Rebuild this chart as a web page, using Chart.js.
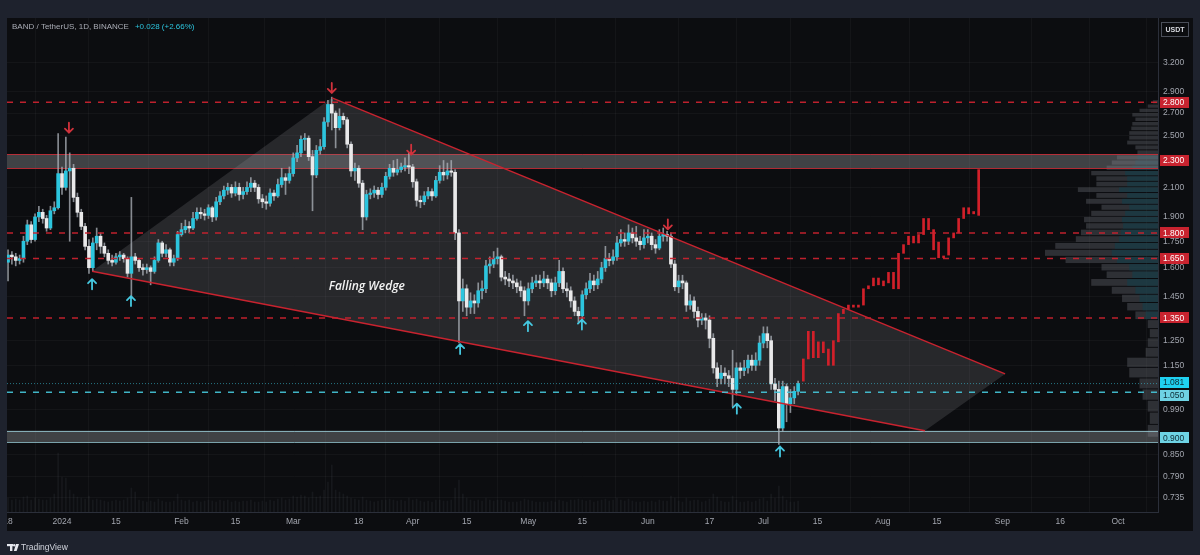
<!DOCTYPE html>
<html>
<head>
<meta charset="utf-8">
<title>BAND / TetherUS 1D</title>
<script src="https://cdn.jsdelivr.net/npm/chart.js@4.4.1/dist/chart.umd.min.js"></script>
<style>
  html, body { margin: 0; padding: 0; background: #1e222d; }
  canvas { display: block; }
</style>
</head>
<body>
<canvas id="chart" width="1200" height="555"></canvas>
<script>
// days counted from 1 Jan 2024, first candle is 18 Dec 2023
const firstDay = -14;
const firstOpen = 1.63;
const closes = [
  1.67, 1.66, 1.64, 1.65, 1.75, 1.85, 1.76, 1.90, 1.93, 1.89,
  1.83, 1.94, 1.96, 2.20, 2.10, 2.22, 2.24, 2.03, 1.93, 1.84,
  1.72, 1.60, 1.74, 1.78, 1.72, 1.68, 1.64, 1.63, 1.66, 1.67,
  1.65, 1.57, 1.66, 1.64, 1.60, 1.59, 1.60, 1.58, 1.64, 1.74,
  1.68, 1.70, 1.63, 1.65, 1.79, 1.82, 1.84, 1.83, 1.89, 1.93,
  1.92, 1.91, 1.96, 1.90, 2.00, 2.04, 2.08, 2.10, 2.06, 2.10,
  2.05, 2.07, 2.10, 2.13, 2.10, 2.02, 2.00, 1.99, 2.06, 2.04,
  2.12, 2.17, 2.15, 2.20, 2.32, 2.36, 2.47, 2.48, 2.33, 2.19,
  2.38, 2.41, 2.62, 2.78, 2.70, 2.57, 2.67, 2.64, 2.43, 2.22,
  2.24, 2.13, 1.90, 2.05, 2.06, 2.08, 2.05, 2.10, 2.18, 2.24,
  2.21, 2.23, 2.25, 2.26, 2.25, 2.14, 2.01, 2.00, 2.04, 2.07,
  2.04, 2.15, 2.21, 2.19, 2.22, 2.21, 1.80, 1.43, 1.49, 1.40,
  1.43, 1.42, 1.48, 1.49, 1.61, 1.62, 1.65, 1.66, 1.55, 1.54,
  1.53, 1.52, 1.50, 1.48, 1.43, 1.49, 1.52, 1.53, 1.52, 1.54,
  1.52, 1.48, 1.52, 1.58, 1.49, 1.48, 1.43, 1.38, 1.36, 1.46,
  1.49, 1.53, 1.51, 1.54, 1.60, 1.65, 1.64, 1.66, 1.74, 1.76,
  1.75, 1.80, 1.77, 1.75, 1.73, 1.77, 1.78, 1.73, 1.71, 1.78,
  1.79, 1.78, 1.62, 1.50, 1.53, 1.52, 1.41, 1.43, 1.38, 1.34,
  1.35, 1.34, 1.26, 1.14, 1.10, 1.12, 1.11, 1.10, 1.06, 1.14,
  1.13, 1.14, 1.17, 1.15, 1.17, 1.24, 1.28, 1.25, 1.08, 1.06,
  0.93, 1.07, 1.01, 1.03, 1.053, 1.081
];
const highs = [
  1.70, 1.69, 1.68, 1.67, 1.78, 1.88, 1.87, 1.92, 1.97, 1.95,
  1.91, 1.97, 2.00, 2.52, 2.25, 2.49, 2.36, 2.27, 2.06, 1.95,
  1.86, 1.76, 1.77, 1.83, 1.80, 1.74, 1.70, 1.67, 1.68, 1.69,
  1.68, 1.66, 2.03, 1.68, 1.65, 1.62, 1.62, 1.61, 1.66, 1.76,
  1.75, 1.73, 1.71, 1.67, 1.81, 1.86, 1.88, 1.87, 1.93, 1.96,
  1.96, 1.95, 1.98, 1.97, 2.03, 2.07, 2.11, 2.13, 2.12, 2.14,
  2.13, 2.10, 2.14, 2.17, 2.15, 2.12, 2.05, 2.04, 2.09, 2.08,
  2.16, 2.24, 2.20, 2.25, 2.36, 2.42, 2.50, 2.52, 2.50, 2.38,
  2.42, 2.47, 2.66, 2.82, 2.85, 2.72, 2.74, 2.70, 2.66, 2.45,
  2.28, 2.26, 2.15, 2.08, 2.09, 2.11, 2.10, 2.13, 2.21, 2.27,
  2.30, 2.31, 2.28, 2.32, 2.36, 2.27, 2.16, 2.04, 2.07, 2.10,
  2.09, 2.18, 2.26, 2.30, 2.28, 2.30, 2.23, 1.82, 1.54, 1.51,
  1.47, 1.46, 1.52, 1.53, 1.64, 1.66, 1.69, 1.71, 1.67, 1.58,
  1.57, 1.56, 1.54, 1.53, 1.50, 1.52, 1.55, 1.56, 1.56, 1.58,
  1.56, 1.54, 1.55, 1.64, 1.60, 1.52, 1.50, 1.45, 1.40, 1.48,
  1.52, 1.57, 1.56, 1.58, 1.63, 1.72, 1.68, 1.70, 1.78, 1.82,
  1.80, 1.85, 1.83, 1.84, 1.78, 1.82, 1.82, 1.80, 1.76, 1.82,
  1.83, 1.81, 1.80, 1.64, 1.56, 1.56, 1.53, 1.46, 1.45, 1.40,
  1.37, 1.37, 1.36, 1.28, 1.16, 1.15, 1.14, 1.13, 1.21, 1.16,
  1.16, 1.17, 1.19, 1.19, 1.20, 1.27, 1.31, 1.31, 1.27, 1.10,
  1.09, 1.09, 1.08, 1.06, 1.07, 1.09
];
const lows = [
  1.53, 1.62, 1.61, 1.62, 1.63, 1.73, 1.74, 1.75, 1.87, 1.86,
  1.81, 1.82, 1.92, 1.95, 2.05, 2.08, 1.75, 2.00, 1.90, 1.82,
  1.70, 1.57, 1.58, 1.70, 1.68, 1.66, 1.62, 1.61, 1.62, 1.64,
  1.63, 1.55, 1.45, 1.62, 1.58, 1.56, 1.57, 1.51, 1.57, 1.63,
  1.66, 1.66, 1.61, 1.61, 1.64, 1.78, 1.80, 1.80, 1.82, 1.88,
  1.89, 1.88, 1.89, 1.87, 1.88, 1.98, 2.02, 2.05, 2.03, 2.04,
  2.01, 2.02, 2.05, 2.07, 2.07, 1.99, 1.96, 1.95, 1.97, 2.01,
  2.03, 2.10, 2.05, 2.13, 2.18, 2.29, 2.33, 2.38, 2.30, 1.94,
  2.17, 2.35, 2.39, 2.58, 2.55, 2.40, 2.55, 2.60, 2.40, 2.18,
  2.15, 2.10, 1.82, 1.88, 2.02, 2.03, 2.02, 2.03, 2.08, 2.16,
  2.18, 2.19, 2.21, 2.22, 2.20, 2.10, 1.97, 1.96, 1.98, 2.02,
  2.01, 2.03, 2.13, 2.15, 2.16, 2.18, 1.76, 1.24, 1.38, 1.36,
  1.37, 1.37, 1.40, 1.44, 1.47, 1.57, 1.60, 1.62, 1.53, 1.51,
  1.50, 1.49, 1.47, 1.45, 1.36, 1.41, 1.47, 1.50, 1.49, 1.50,
  1.49, 1.45, 1.46, 1.50, 1.47, 1.45, 1.40, 1.36, 1.33, 1.34,
  1.44, 1.47, 1.48, 1.49, 1.52, 1.58, 1.61, 1.62, 1.64, 1.72,
  1.72, 1.73, 1.74, 1.72, 1.70, 1.71, 1.74, 1.70, 1.68, 1.70,
  1.75, 1.75, 1.60, 1.48, 1.47, 1.49, 1.38, 1.39, 1.35, 1.31,
  1.32, 1.30, 1.22, 1.12, 1.07, 1.08, 1.08, 1.07, 1.00, 1.04,
  1.10, 1.11, 1.12, 1.13, 1.13, 1.15, 1.22, 1.22, 1.06, 1.02,
  0.88, 0.92, 0.95, 0.98, 1.01, 1.04
];
// relative daily volume (faint histogram along the bottom)
const volumes = [
  14, 12, 13, 12, 15, 16, 12, 14, 13, 12,
  12, 14, 18, 59, 35, 34, 22, 18, 15, 14,
  13, 16, 12, 13, 12, 11, 10, 11, 12, 11,
  12, 14, 24, 20, 12, 11, 10, 11, 10, 13,
  11, 10, 10, 11, 18, 12, 11, 12, 10, 11,
  10, 11, 12, 11, 10, 12, 11, 12, 10, 11,
  10, 11, 11, 12, 10, 10, 11, 10, 12, 11,
  13, 14, 12, 13, 16, 15, 17, 16, 14, 20,
  15, 16, 22, 30, 47, 22, 20, 18, 16, 14,
  13, 12, 15, 12, 11, 10, 11, 12, 12, 13,
  12, 11, 12, 11, 14, 12, 13, 11, 10, 11,
  10, 12, 12, 11, 11, 12, 24, 32, 18, 14,
  12, 11, 12, 11, 14, 12, 11, 12, 12, 11,
  10, 10, 10, 11, 13, 12, 11, 10, 10, 10,
  10, 11, 10, 12, 11, 10, 12, 12, 13, 12,
  11, 12, 10, 11, 12, 13, 11, 12, 14, 12,
  11, 13, 11, 10, 10, 11, 10, 11, 10, 12,
  11, 11, 16, 14, 11, 10, 14, 11, 12, 12,
  10, 11, 13, 18, 15, 11, 10, 10, 16, 12,
  10, 10, 11, 10, 11, 13, 14, 11, 18, 14,
  26, 16, 12, 10, 10, 11
];

// projected path (red bars pattern)
const projStartDay = 192.35;
const projStep = 1.3;
const projLow = [
  1.09, 1.175, 1.18, 1.18, 1.20, 1.15, 1.15, 1.245, 1.37, 1.39, 1.40, 1.40,
  1.41, 1.49, 1.505, 1.51, 1.505, 1.52, 1.49, 1.49, 1.68, 1.73, 1.74, 1.74,
  1.79, 1.82, 1.70, 1.655, 1.655, 1.67, 1.77, 1.80, 1.89, 1.92, 1.92, 1.91
];
const projHigh = [
  1.175, 1.29, 1.29, 1.245, 1.245, 1.215, 1.25, 1.37, 1.39, 1.41, 1.41, 1.41,
  1.49, 1.505, 1.545, 1.545, 1.53, 1.575, 1.575, 1.68, 1.73, 1.78, 1.78, 1.79,
  1.89, 1.89, 1.82, 1.745, 1.665, 1.77, 1.80, 1.89, 1.96, 1.96, 1.935, 2.23
];

// levels and zones
const redLevels = [2.8, 1.8, 1.65, 1.35];
const cyanLevel = 1.05;
const lastPrice = 1.081;
const topZone = [2.24, 2.35];
const bottomZone = [0.887, 0.922];

// wedge corners [day, price]
const wedgeLower = [[7.8, 1.581], [223.9, 0.9217]];
const wedgeUpper = [[70.06, 2.843], [244.7, 1.117]];
const wedgeLabel = [79.1, 1.503];

const redArrows = [[1.8, 2.57], [70, 2.94], [90.6, 2.386], [157.2, 1.853]];
const cyanArrows = [[7.8, 1.513], [17.9, 1.429], [103.3, 1.215], [120.9, 1.313], [134.9, 1.32], [175.1, 0.993], [186.3, 0.859]];

// price scale: plain ticks and the highlighted level labels
const priceTicks = [3.2, 2.9, 2.7, 2.5, 2.1, 1.9, 1.75, 1.6, 1.45, 1.25, 1.15, 0.99, 0.85, 0.79, 0.735];
const redTags = [2.8, 2.3, 1.8, 1.65, 1.35];
const cyanTags = [1.081, 1.05, 0.9];

const timeTickDays = [-14, 0, 14, 31, 45, 60, 77, 91, 105, 121, 135, 152, 168, 182, 196, 213, 227, 244, 259, 274];
const timeTickLabels = ["18", "2024", "15", "Feb", "15", "Mar", "18", "Apr", "15", "May", "15", "Jun", "17", "Jul", "15", "Aug", "15", "Sep", "16", "Oct"];

// visible range volume profile, rows of 0.04 from 0.90 upwards
const vpStart = 0.90;
const vpStep = 0.04;
const vpVol = [10, 8, 10, 15, 18, 28, 30, 12, 10, 8, 10, 22, 30, 35, 45, 65, 50, 55, 90, 110, 100, 80, 75, 70, 72,
  65, 55, 70, 60, 78, 60, 60, 65, 50, 45, 40, 20, 22, 30, 28, 28, 26, 25, 22, 25, 18, 10, 5];
const vpUp = [0, 0, 0, 0, 0, 0, 0, 0, 0, 0, 0, 12, 15, 18, 22, 30, 25, 28, 40, 45, 42, 38, 36, 34, 35,
  32, 28, 35, 30, 38, 30, 30, 32, 25, 22, 20, 0, 0, 0, 0, 0, 0, 0, 0, 0, 0, 0, 0];

const xMin = -14.27, xMax = 284.38;
const yMin = 0.7034, yMax = 3.725;

const CYAN = '#2cc5de';
const WHITE = '#e9e9ea';
const RED = '#c8232f';
const OUTER = '#1e222d';
const FONT = 'Liberation Sans';

// candles
const wickData = [], bodyData = [], bodyColors = [], volData = [];
closes.forEach((c, i) => {
  const day = firstDay + i;
  const o = i === 0 ? firstOpen : closes[i - 1];
  wickData.push({ x: day, y: [lows[i], highs[i]] });
  bodyData.push({ x: day, y: [o, c] });
  bodyColors.push(c >= o ? CYAN : WHITE);
  volData.push({ x: day, y: volumes[i] });
});
const projData = projLow.map((lo, i) => ({ x: projStartDay + i * projStep, y: [lo, projHigh[i]] }));

function hLine(price, color, dash, width) {
  return {
    type: 'line',
    data: [{ x: xMin, y: price }, { x: xMax, y: price }],
    borderColor: color, borderWidth: width, borderDash: dash,
    pointRadius: 0, order: 0
  };
}
function segLine(pts) {
  return {
    type: 'line',
    data: pts.map(p => ({ x: p[0], y: p[1] })),
    borderColor: RED, borderWidth: 1.5,
    pointRadius: 0, order: 0
  };
}

function drawArrow(ctx, x, y, down, color) {
  ctx.save();
  ctx.strokeStyle = color;
  ctx.lineWidth = 1.8;
  ctx.lineCap = 'round';
  ctx.lineJoin = 'round';
  ctx.beginPath();
  ctx.moveTo(x, y - 5);
  ctx.lineTo(x, y + 5);
  if (down) {
    ctx.moveTo(x - 4, y + 1);
    ctx.lineTo(x, y + 5);
    ctx.lineTo(x + 4, y + 1);
  } else {
    ctx.moveTo(x - 4, y - 1);
    ctx.lineTo(x, y - 5);
    ctx.lineTo(x + 4, y - 1);
  }
  ctx.stroke();
  ctx.restore();
}

const tvPlugin = {
  id: 'tvLayers',
  beforeDraw(chart) {
    const ctx = chart.ctx;
    const a = chart.chartArea;
    ctx.save();
    ctx.fillStyle = OUTER;
    ctx.fillRect(0, 0, chart.width, chart.height);
    ctx.fillStyle = '#0c0d10';
    ctx.fillRect(a.left, a.top, chart.scales.y.right - a.left, chart.scales.x.bottom - a.top);
    ctx.restore();
  },
  beforeDatasetsDraw(chart) {
    const ctx = chart.ctx;
    const a = chart.chartArea;
    const xs = chart.scales.x, ys = chart.scales.y;
    ctx.save();
    ctx.beginPath();
    ctx.rect(a.left, a.top, a.right - a.left, a.bottom - a.top);
    ctx.clip();

    // volume profile
    const maxVol = Math.max(...vpVol);
    vpVol.forEach((v, i) => {
      const lo = vpStart + i * vpStep;
      const yt = ys.getPixelForValue(lo + vpStep);
      const yb = ys.getPixelForValue(lo);
      const h = Math.max(1, yb - yt - 1);
      const w = v / maxVol * 113;
      ctx.fillStyle = 'rgba(95,98,104,0.42)';
      ctx.fillRect(a.right - w, yt, w, h);
      if (vpUp[i] > 0) {
        const wu = vpUp[i] / maxVol * 113;
        ctx.fillStyle = 'rgba(18,62,74,0.6)';
        ctx.fillRect(a.right - wu, yt, wu, h);
      }
    });

    // zones
    const zone = (range, border) => {
      const y1 = ys.getPixelForValue(range[1]);
      const y0 = ys.getPixelForValue(range[0]);
      ctx.fillStyle = 'rgba(150,152,158,0.38)';
      ctx.fillRect(a.left, y1, a.right - a.left, y0 - y1);
      ctx.strokeStyle = border;
      ctx.lineWidth = 1;
      ctx.beginPath();
      ctx.moveTo(a.left, Math.round(y1) + 0.5); ctx.lineTo(a.right, Math.round(y1) + 0.5);
      ctx.moveTo(a.left, Math.round(y0) + 0.5); ctx.lineTo(a.right, Math.round(y0) + 0.5);
      ctx.stroke();
    };
    zone(topZone, 'rgba(205,45,55,0.85)');
    zone(bottomZone, 'rgba(150,200,210,0.8)');

    // wedge fill
    const pts = [wedgeLower[0], wedgeUpper[0], wedgeUpper[1], wedgeLower[1]];
    ctx.fillStyle = 'rgba(150,150,155,0.2)';
    ctx.beginPath();
    pts.forEach((p, i) => {
      const px = xs.getPixelForValue(p[0]), py = ys.getPixelForValue(p[1]);
      if (i === 0) ctx.moveTo(px, py); else ctx.lineTo(px, py);
    });
    ctx.closePath();
    ctx.fill();
    ctx.restore();
  },
  afterDatasetsDraw(chart) {
    const ctx = chart.ctx;
    const xs = chart.scales.x, ys = chart.scales.y;
    redArrows.forEach(p => drawArrow(ctx, xs.getPixelForValue(p[0]), ys.getPixelForValue(p[1]), true, '#d1323c'));
    cyanArrows.forEach(p => drawArrow(ctx, xs.getPixelForValue(p[0]), ys.getPixelForValue(p[1]), false, '#45c8e0'));
    ctx.save();
    ctx.font = 'italic 600 12px "Open Sans"';
    ctx.fillStyle = '#f2f2f2';
    ctx.textAlign = 'center';
    ctx.textBaseline = 'middle';
    ctx.fillText('Falling Wedge', xs.getPixelForValue(wedgeLabel[0]), ys.getPixelForValue(wedgeLabel[1]));
    ctx.restore();
  },
  afterDraw(chart) {
    const ctx = chart.ctx;
    const ys = chart.scales.y;
    const a = chart.chartArea;
    ctx.save();
    // clip the first time label at the panel edge
    ctx.fillStyle = OUTER;
    ctx.fillRect(0, 505, a.left, 30);

    // highlighted price tags on the scale
    ctx.font = '8.5px "' + FONT + '"';
    ctx.textBaseline = 'middle';
    ctx.textAlign = 'left';
    const tag = (v, bg, fg, shift) => {
      const y = ys.getPixelForValue(v) + shift;
      ctx.fillStyle = bg;
      ctx.fillRect(a.right + 2, Math.round(y - 5.5), 29, 11);
      ctx.fillStyle = fg;
      ctx.fillText(v.toFixed(3), a.right + 5, y + 0.5);
    };
    redTags.forEach(v => tag(v, '#c8232f', '#ffffff', 0));
    cyanTags.forEach(v => tag(v, v === 1.081 ? '#1fd0f0' : '#6ed3e4', '#0d2a33', v === 1.081 ? -1 : v === 1.05 ? 3 : 0));

    // header
    ctx.font = '8px "' + FONT + '"';
    ctx.fillStyle = '#a9acb5';
    const title = 'BAND / TetherUS, 1D, BINANCE';
    ctx.fillText(title, 12, 27);
    ctx.fillStyle = CYAN;
    ctx.fillText('+0.028 (+2.66%)', 12 + ctx.measureText(title).width + 6, 27);

    // currency box
    ctx.strokeStyle = '#4a4e59';
    ctx.lineWidth = 1;
    ctx.strokeRect(1161.5, 22.5, 27, 14);
    ctx.fillStyle = '#d8dae0';
    ctx.font = 'bold 7px "' + FONT + '"';
    ctx.textAlign = 'center';
    ctx.fillText('USDT', 1175, 30);

    // footer logo
    ctx.fillStyle = '#e6e8ee';
    ctx.fillRect(7, 544, 6, 2.2);
    ctx.fillRect(10, 544, 2.4, 7);
    ctx.beginPath();
    ctx.arc(14.2, 545.2, 1.2, 0, Math.PI * 2);
    ctx.fill();
    ctx.beginPath();
    ctx.moveTo(16, 544); ctx.lineTo(19, 544); ctx.lineTo(16.6, 551); ctx.lineTo(13.8, 551);
    ctx.closePath();
    ctx.fill();
    ctx.textAlign = 'left';
    ctx.font = '8.5px "' + FONT + '"';
    ctx.fillStyle = '#d1d4dc';
    ctx.fillText('TradingView', 21, 548);
    ctx.restore();
  }
};

new Chart(document.getElementById('chart'), {
  type: 'bar',
  data: {
    datasets: [
      hLine(lastPrice, 'rgba(60,200,225,0.55)', [1, 2], 1),
      hLine(cyanLevel, 'rgba(70,200,220,0.9)', [6, 7], 1.5),
      ...redLevels.map(l => hLine(l, 'rgba(200,35,47,0.95)', [6, 7], 1.5)),
      segLine(wedgeUpper),
      segLine(wedgeLower),
      {
        data: bodyData, backgroundColor: bodyColors,
        barThickness: 3, minBarLength: 1, grouped: false, order: 1
      },
      {
        data: projData, backgroundColor: '#d2202a',
        barThickness: 2, minBarLength: 1, grouped: false, order: 1
      },
      {
        data: wickData, backgroundColor: 'rgba(175,180,188,0.75)',
        barThickness: 1, grouped: false, order: 2
      },
      {
        data: volData, yAxisID: 'yv', backgroundColor: 'rgba(120,125,135,0.1)',
        barThickness: 1, grouped: false, order: 3
      }
    ]
  },
  options: {
    responsive: false,
    devicePixelRatio: 1,
    animation: false,
    events: [],
    layout: { padding: { left: 7, top: 18, right: 7, bottom: 24 } },
    plugins: { legend: { display: false }, tooltip: { enabled: false } },
    scales: {
      x: {
        type: 'linear', min: xMin, max: xMax, offset: false,
        grid: { color: 'rgba(255,255,255,0.035)', drawTicks: false },
        border: { color: '#2b2f3a' },
        ticks: {
          color: '#a3a6af', font: { family: FONT, size: 8.5 }, padding: 5,
          maxRotation: 0, autoSkip: false,
          callback: (v, i) => timeTickLabels[i]
        },
        afterBuildTicks: s => { s.ticks = timeTickDays.map(v => ({ value: v })); },
        afterFit: s => { s.height = 19; s.paddingLeft = 0; s.paddingRight = 0; }
      },
      y: {
        type: 'logarithmic', position: 'right', min: yMin, max: yMax,
        grid: { color: 'rgba(255,255,255,0.035)', drawTicks: false },
        border: { color: '#2b2f3a' },
        ticks: {
          autoSkip: false, padding: 5,
          font: { family: FONT, size: 8.5 },
          color: '#a3a6af',
          callback: v => Number(v).toFixed(3)
        },
        afterBuildTicks: s => { s.ticks = priceTicks.map(v => ({ value: v })); },
        afterFit: s => { s.width = 35; s.paddingTop = 0; s.paddingBottom = 0; }
      },
      yv: {
        type: 'linear', display: false, min: 0, max: 494
      }
    }
  },
  plugins: [tvPlugin]
});
</script>
</body>
</html>
